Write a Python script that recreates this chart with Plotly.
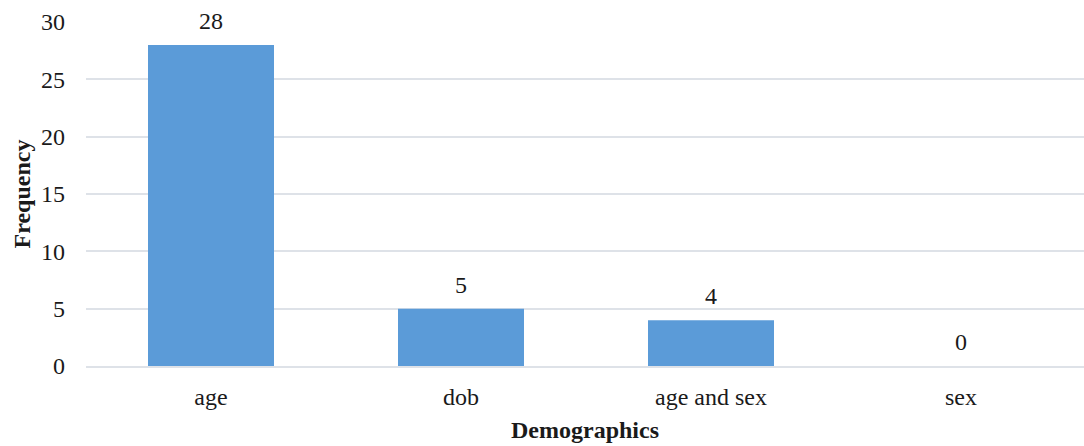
import plotly.graph_objects as go

categories = ["age", "dob", "age and sex", "sex"]
values = [28, 5, 4, 0]
y_ticks = [0, 5, 10, 15, 20, 25, 30]

FONT = "Liberation Serif, Times New Roman, serif"
TXT = "#1a1a1a"

fig = go.Figure()
fig.add_trace(go.Bar(
    x=categories,
    y=values,
    marker=dict(color="#5B9BD8", line=dict(width=0)),
    hoverinfo="x+y",
))

for c, v in zip(categories, values):
    fig.add_annotation(
        x=c, y=v, text=str(v), showarrow=False,
        yanchor="middle", yshift=24,
        font=dict(family=FONT, size=24, color=TXT),
    )

fig.update_layout(
    width=1084, height=446,
    margin=dict(l=86, r=0, t=22, b=79.5),
    paper_bgcolor="white", plot_bgcolor="white",
    font=dict(family=FONT, size=24, color=TXT),
    bargap=0.496,
    showlegend=False,
    xaxis=dict(
        range=[-0.5, 3.492],
        showgrid=False, showline=True, linecolor="#DEE2E8", linewidth=1.5,
        ticks="", ticklabelstandoff=8,
        tickfont=dict(family=FONT, size=24, color=TXT),
        title=dict(text="<b>Demographics</b>", font=dict(family=FONT, size=24, color=TXT), standoff=13),
    ),
    yaxis=dict(
        range=[0, 30], tickvals=y_ticks, showgrid=True, gridcolor="#DEE2E8", gridwidth=1.5,
        zeroline=False, showline=False, ticks="", ticklabelstandoff=20,
        tickfont=dict(family=FONT, size=24, color=TXT),
        title=dict(text="<b>Frequency</b>", font=dict(family=FONT, size=24, color=TXT), standoff=3),
    ),
)

fig.write_html("out.html")
